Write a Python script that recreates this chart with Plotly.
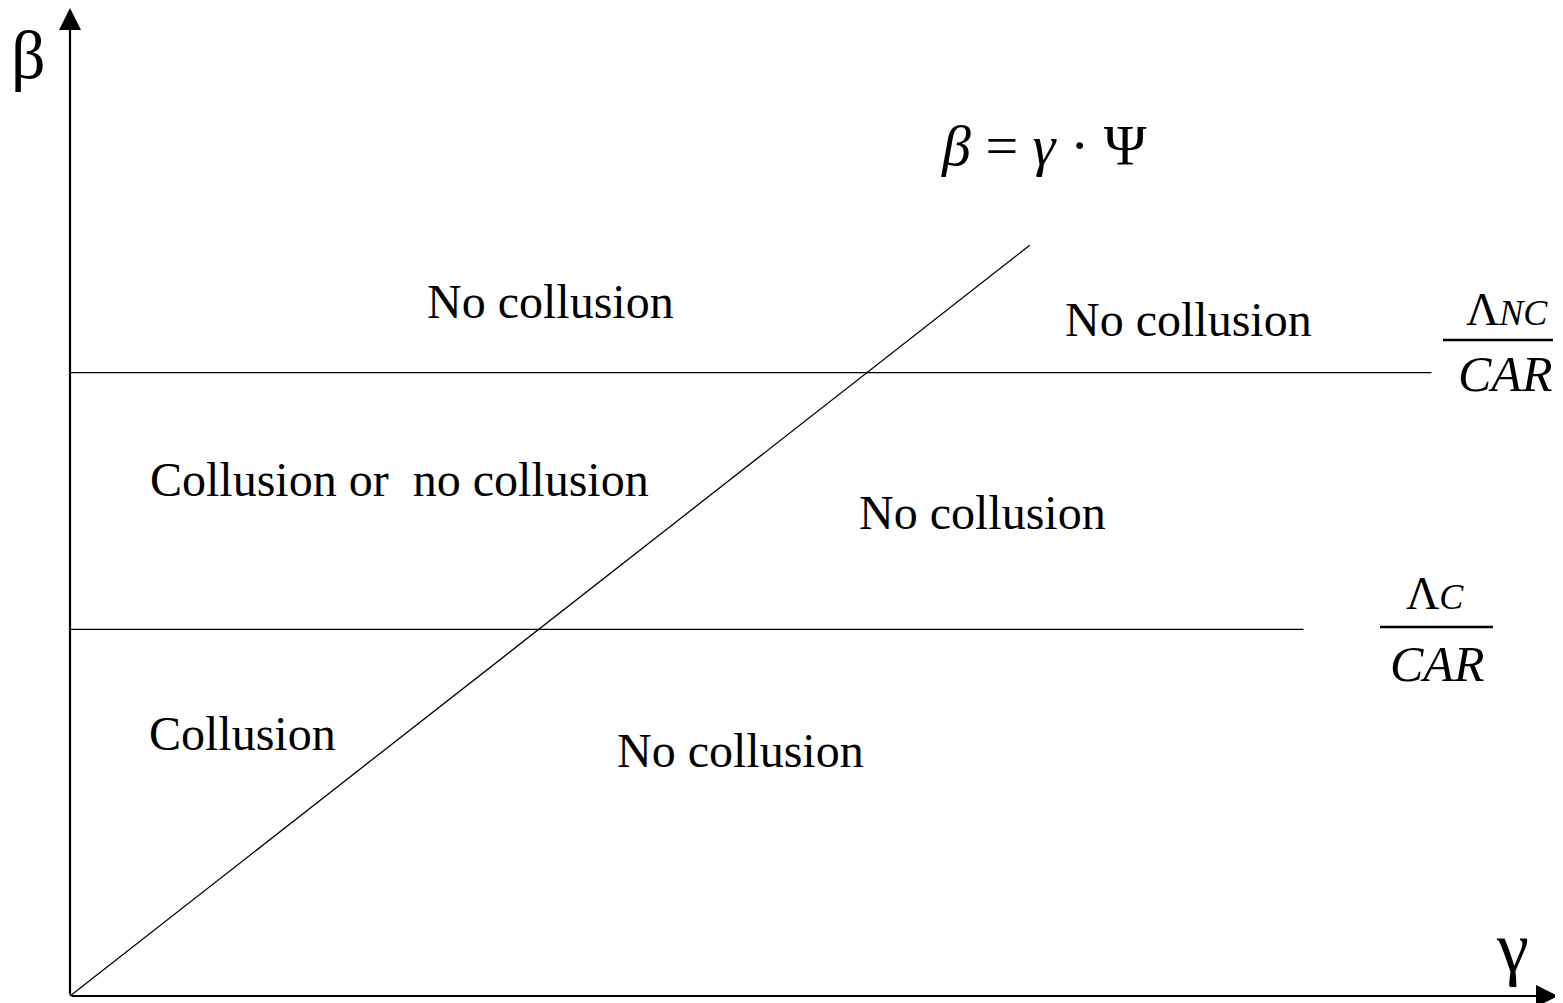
import plotly.graph_objects as go

# model quantities (gamma on x, beta on y), axis arrows end near 1.0
gamma_end = 1.0
beta_end = 0.997
psi = 1.1745                 # slope of beta = gamma * Psi
diag_gamma_end = 0.645
lambda_nc_car = 0.629        # Lambda_NC / CAR
lambda_c_car = 0.370         # Lambda_C / CAR
nc_line_end = 0.915
c_line_end = 0.829

region_labels = ["No collusion", "No collusion", "Collusion or\u00a0\u00a0no collusion",
                 "No collusion", "Collusion", "No collusion"]

SERIF = "Liberation Serif, Times New Roman, serif"
BLACK = "#000000"

fig = go.Figure()

# beta = gamma * Psi
fig.add_trace(go.Scatter(x=[0, diag_gamma_end], y=[0, diag_gamma_end * psi],
                         mode="lines", line=dict(color=BLACK, width=1.3),
                         hoverinfo="skip", showlegend=False))
# Lambda_NC / CAR threshold
fig.add_trace(go.Scatter(x=[0, nc_line_end], y=[lambda_nc_car, lambda_nc_car],
                         mode="lines", line=dict(color=BLACK, width=1.3),
                         hoverinfo="skip", showlegend=False))
# Lambda_C / CAR threshold
fig.add_trace(go.Scatter(x=[0, c_line_end], y=[lambda_c_car, lambda_c_car],
                         mode="lines", line=dict(color=BLACK, width=1.3),
                         hoverinfo="skip", showlegend=False))

# axes with arrow heads
for tip in [(gamma_end, 0), (0, beta_end)]:
    fig.add_annotation(x=tip[0], y=tip[1], ax=0, ay=0, xref="x", yref="y",
                       axref="x", ayref="y", showarrow=True, arrowhead=2,
                       arrowsize=2.0, arrowwidth=2.2, arrowcolor=BLACK, text="")

# region labels
label_pos = [(0.3226, 0.7013), (0.752, 0.6831), (0.2211, 0.5207),
             (0.6129, 0.4884), (0.1156, 0.2644), (0.4509, 0.2482)]
for txt, (gx, by) in zip(region_labels, label_pos):
    fig.add_annotation(x=gx, y=by, text=txt, showarrow=False,
                       font=dict(family=SERIF, size=48, color=BLACK))

# axis titles and curve label
fig.add_annotation(x=-0.0276, y=0.950, text="β", showarrow=False,
                   font=dict(family=SERIF, size=68, color=BLACK))
fig.add_annotation(x=0.9697, y=0.0484, text="γ", showarrow=False,
                   font=dict(family=SERIF, size=72, color=BLACK))
fig.add_annotation(x=0.6546, y=0.8587, text="<i>β</i> = <i>γ</i> · Ψ", showarrow=False,
                   font=dict(family=SERIF, size=58, color=BLACK))

# threshold fractions
fig.add_annotation(x=0.9657, y=lambda_nc_car + 0.064,
                   text="Λ<i><span style='font-size:36px'>NC</span></i>",
                   showarrow=False, font=dict(family=SERIF, size=46, color=BLACK))
fig.add_annotation(x=0.9644, y=lambda_nc_car - 0.0014, text="<i>CAR</i>", showarrow=False,
                   font=dict(family=SERIF, size=50, color=BLACK))
fig.add_shape(type="line", x0=0.9227, x1=0.9966, y0=lambda_nc_car + 0.033,
              y1=lambda_nc_car + 0.033, line=dict(color=BLACK, width=2.5))

fig.add_annotation(x=0.9173, y=lambda_c_car + 0.0357,
                   text="Λ<i><span style='font-size:36px'>C</span></i>",
                   showarrow=False, font=dict(family=SERIF, size=46, color=BLACK))
fig.add_annotation(x=0.9187, y=lambda_c_car - 0.035, text="<i>CAR</i>", showarrow=False,
                   font=dict(family=SERIF, size=50, color=BLACK))
fig.add_shape(type="line", x0=0.8804, x1=0.9563, y0=lambda_c_car + 0.0024,
              y1=lambda_c_car + 0.0024, line=dict(color=BLACK, width=2.5))

# the page body has an 8px margin, so the figure is sized to end at the window edge
fig.update_xaxes(range=[-62 / 1488, 1493 / 1488], visible=False)
fig.update_yaxes(range=[-7 / 991, 988 / 991], visible=False)
fig.update_layout(width=1555, height=995, margin=dict(l=0, r=0, t=0, b=0),
                  plot_bgcolor="white", paper_bgcolor="white", showlegend=False)

fig.write_html("out.html")
